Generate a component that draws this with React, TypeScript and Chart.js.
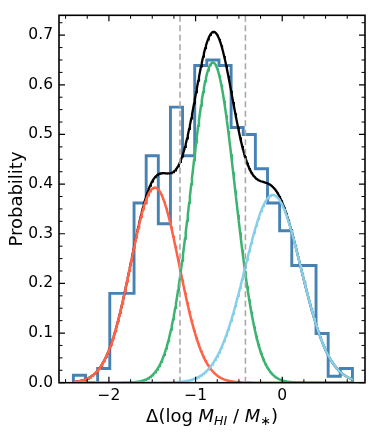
import React, { useEffect, useRef } from "react";
import { Chart, registerables } from "chart.js";

Chart.register(...registerables);

// ---- data ----
const binEdges = [
  -2.41, -2.27, -2.13, -1.99, -1.85, -1.71, -1.57, -1.43, -1.29, -1.15, -1.01, -0.87,
  -0.73, -0.59, -0.45, -0.31, -0.17, -0.03, 0.11, 0.25, 0.39, 0.53, 0.67, 0.81,
];
const binHeights = [
  0.015, 0, 0.0285, 0.18, 0.18, 0.362, 0.457, 0.32, 0.555, 0.457, 0.639, 0.65,
  0.639, 0.514, 0.5, 0.431, 0.362, 0.306, 0.236, 0.236, 0.099, 0.013, 0.0285,
];
// Gaussian components of the fitted model
const gaussMeans = [-1.47, -0.8, -0.107];
const gaussSigmas = [0.28, 0.255, 0.325];
const gaussPeaks = [0.393, 0.645, 0.378];
const gaussColors = ["#FF6347", "#3CB371", "#87CEEB"];
const dividerLines = [-1.18, -0.425];

const xTickValues = [-2, -1, 0];
const xTickLabels = ["\u22122", "\u22121", "0"];
const yTickValues = [0, 0.1, 0.2, 0.3, 0.4, 0.5, 0.6, 0.7];
const yTickLabels = ["0.0", "0.1", "0.2", "0.3", "0.4", "0.5", "0.6", "0.7"];

const yTitle = "Probability";
const xTitleParts = [
  { t: "\u0394(log ", italic: false, sub: false },
  { t: "M", italic: true, sub: false },
  { t: "HI", italic: true, sub: true },
  { t: " / ", italic: false, sub: false },
  { t: "M", italic: true, sub: false },
  { t: "\u2217", italic: false, sub: true },
  { t: ")", italic: false, sub: false },
];

const X_MIN = -2.576;
const X_MAX = 0.955;
const Y_MIN = 0;
const Y_MAX = 0.74;
const FONT = "'DejaVu Sans', sans-serif";

function gauss(x: number, i: number) {
  const z = (x - gaussMeans[i]) / gaussSigmas[i];
  return gaussPeaks[i] * Math.exp(-0.5 * z * z);
}

function xTitlePartsWidths(ctx: CanvasRenderingContext2D, fontFor: (p: any) => string) {
  return xTitleParts.map((p) => {
    ctx.font = fontFor(p);
    return ctx.measureText(p.t).width;
  });
}

const frameTicksPlugin = {
  id: "frameTicks",
  afterDatasetsDraw(chart: any) {
    const { ctx, chartArea, scales } = chart;
    const { left, right, top, bottom } = chartArea;
    const xs = scales.x;
    const ys = scales.y;
    ctx.save();
    ctx.strokeStyle = "#000";
    const drawX = (v: number, len: number, w: number) => {
      const px = xs.getPixelForValue(v);
      ctx.lineWidth = w;
      ctx.beginPath();
      ctx.moveTo(px, bottom);
      ctx.lineTo(px, bottom - len);
      ctx.moveTo(px, top);
      ctx.lineTo(px, top + len);
      ctx.stroke();
    };
    const drawY = (v: number, len: number, w: number) => {
      const py = ys.getPixelForValue(v);
      ctx.lineWidth = w;
      ctx.beginPath();
      ctx.moveTo(left, py);
      ctx.lineTo(left + len, py);
      ctx.moveTo(right, py);
      ctx.lineTo(right - len, py);
      ctx.stroke();
    };
    for (let k = -10; k <= 3; k++) {
      const v = k * 0.25;
      if (v < X_MIN || v > X_MAX) continue;
      if (k % 4 === 0) drawX(v, 6, 1.2);
      else drawX(v, 3.5, 1);
    }
    for (let k = 0; k <= 29; k++) {
      const v = k * 0.025;
      if (v > Y_MAX) continue;
      if (k % 4 === 0) drawY(v, 6, 1.2);
      else drawY(v, 3.5, 1);
    }
    ctx.lineWidth = 1.6;
    ctx.strokeRect(left, top, right - left, bottom - top);
    ctx.restore();
  },
  afterDraw(chart: any) {
    const { ctx, chartArea } = chart;
    const size = 18;
    const subSize = size * 0.7;
    const cx = (chartArea.left + chartArea.right) / 2;
    const baseline = 421.5;
    ctx.save();
    ctx.fillStyle = "#000";
    ctx.textBaseline = "alphabetic";
    ctx.textAlign = "left";
    const fontFor = (p: any) =>
      `${p.italic ? "oblique " : ""}${p.sub ? subSize : size}px ${FONT}`;
    const widths = xTitlePartsWidths(ctx, fontFor);
    const total = widths.reduce((s, w) => s + w, 0);
    let x = cx - total / 2;
    xTitleParts.forEach((p, i) => {
      ctx.font = fontFor(p);
      ctx.fillText(p.t, x, baseline + (p.sub ? 3 : 0));
      x += widths[i];
    });
    ctx.restore();
  },
};

export default function App() {
  const ref = useRef<HTMLCanvasElement>(null);

  useEffect(() => {
    const canvas = ref.current;
    if (!canvas) return;

    const histPoints = [
      { x: binEdges[0], y: 0 },
      ...binHeights.map((h, i) => ({ x: binEdges[i], y: h })),
      { x: binEdges[binEdges.length - 1], y: 0 },
    ];

    const nSamp = 400;
    const x0 = binEdges[0];
    const x1 = binEdges[binEdges.length - 1];
    const grid: number[] = [];
    for (let i = 0; i <= nSamp; i++) grid.push(x0 + ((x1 - x0) * i) / nSamp);

    const compData = gaussMeans.map((_, gi) => grid.map((x) => ({ x, y: gauss(x, gi) })));
    const totalData = grid.map((x) => ({
      x,
      y: gaussMeans.reduce((s, _, gi) => s + gauss(x, gi), 0),
    }));

    const common = { pointRadius: 0, pointHoverRadius: 0, fill: false, tension: 0 };

    const datasets: any[] = [
      {
        ...common,
        label: "histogram",
        data: histPoints,
        stepped: "before",
        borderColor: "#4682B4",
        borderWidth: 2.9,
        borderJoinStyle: "miter",
        order: 6,
      },
      {
        ...common,
        label: "total",
        data: totalData,
        borderColor: "#000000",
        borderWidth: 2.3,
        order: 5,
      },
      ...compData.map((d, gi) => ({
        ...common,
        label: `component ${gi + 1}`,
        data: d,
        borderColor: gaussColors[gi],
        borderWidth: 2.5,
        order: 4 - gi,
      })),
      ...dividerLines.map((v, i) => ({
        ...common,
        label: `divider ${i + 1}`,
        data: [
          { x: v, y: Y_MIN },
          { x: v, y: Y_MAX },
        ],
        borderColor: "#A9A9A9",
        borderWidth: 1.6,
        borderDash: [6, 3.5],
        order: 0,
      })),
    ];

    const chart = new Chart(canvas, {
      type: "line",
      data: { datasets },
      options: {
        responsive: false,
        animation: false,
        devicePixelRatio: 1,
        layout: { padding: { top: 9, right: 9, left: 0, bottom: 0 } },
        plugins: { legend: { display: false }, tooltip: { enabled: false } },
        scales: {
          x: {
            type: "linear",
            min: X_MIN,
            max: X_MAX,
            grid: { display: false, drawTicks: false },
            border: { display: false },
            afterBuildTicks: (s: any) => {
              s.ticks = xTickValues.map((v) => ({ value: v }));
            },
            afterFit: (s: any) => {
              s.height = 436 - 382.7;
            },
            ticks: {
              padding: 4,
              maxRotation: 0,
              autoSkip: false,
              color: "#000",
              font: { family: FONT, size: 15.5 },
              callback: (v: any) => {
                const i = xTickValues.indexOf(Number(v));
                return i >= 0 ? xTickLabels[i] : "";
              },
            },
          },
          y: {
            type: "linear",
            min: Y_MIN,
            max: Y_MAX,
            grid: { display: false, drawTicks: false },
            border: { display: false },
            afterBuildTicks: (s: any) => {
              s.ticks = yTickValues.map((v) => ({ value: v }));
            },
            afterFit: (s: any) => {
              s.width = 59;
            },
            title: {
              display: true,
              text: yTitle,
              color: "#000",
              font: { family: FONT, size: 18 },
              padding: { top: 6.7, bottom: 0 },
            },
            ticks: {
              padding: 6,
              autoSkip: false,
              color: "#000",
              font: { family: FONT, size: 15.5 },
              callback: (v: any) => {
                const i = yTickValues.findIndex((t) => Math.abs(t - Number(v)) < 1e-9);
                return i >= 0 ? yTickLabels[i] : "";
              },
            },
          },
        },
      } as any,
      plugins: [frameTicksPlugin],
    });

    return () => chart.destroy();
  }, []);

  return (
    <div style={{ position: "absolute", left: 0, top: 0, width: 374, height: 436, background: "#fff" }}>
      <canvas ref={ref} width={374} height={436} style={{ display: "block", width: 374, height: 436 }} />
    </div>
  );
}
